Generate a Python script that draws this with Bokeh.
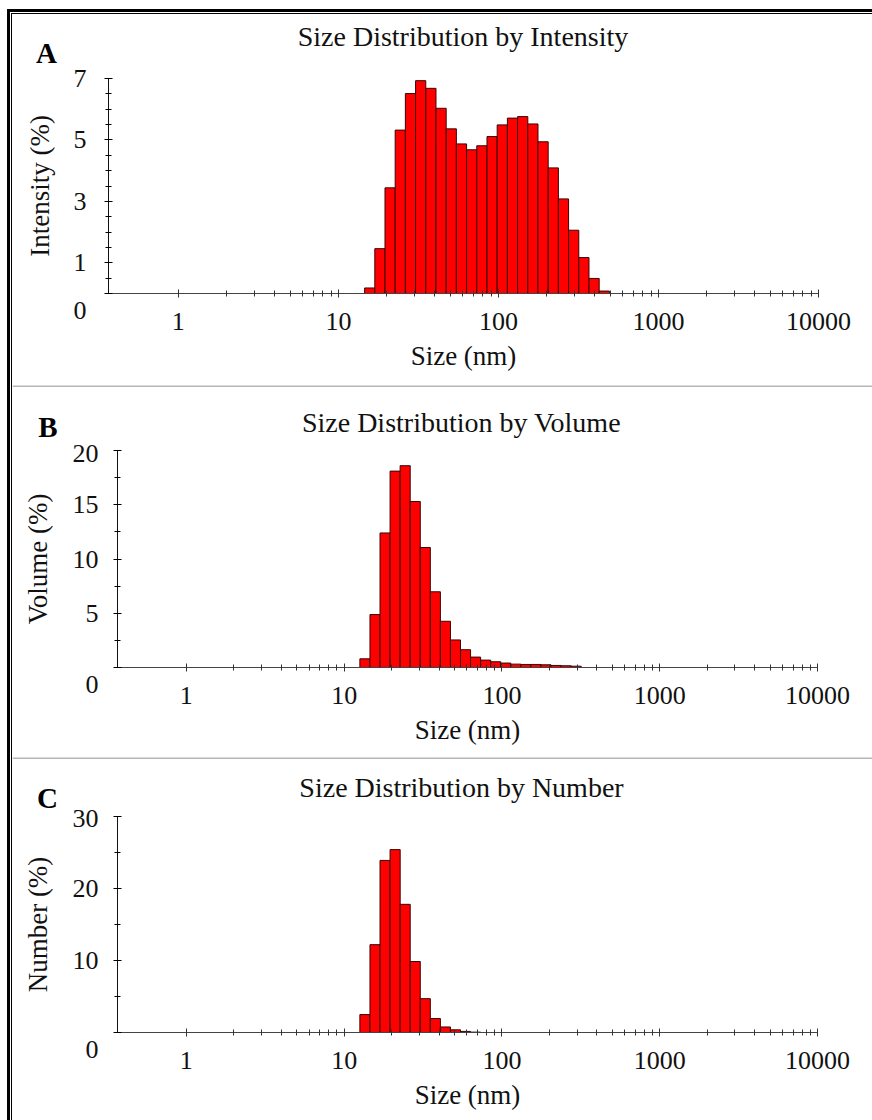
import math
from bokeh.plotting import figure
from bokeh.models import Range1d, FixedTicker, Label, BasicTickFormatter, Span
from bokeh.layouts import column
from bokeh.embed import file_html
from bokeh.resources import INLINE

# ---- data (Zetasizer size classes, nm, and % per class) ----
sizes_a = [15.69, 18.17, 21.04, 24.36, 28.21, 32.67, 37.84, 43.82, 50.75, 58.77,
           68.06, 78.82, 91.28, 105.7, 122.4, 141.8, 164.2, 190.1, 220.2, 255.0,
           295.3, 342.0, 396.1, 458.7]
intensity = [0.18, 1.46, 3.44, 5.32, 6.51, 6.93, 6.68, 6.03, 5.36, 4.87,
             4.68, 4.81, 5.11, 5.49, 5.71, 5.76, 5.52, 4.94, 4.09, 3.08,
             2.06, 1.17, 0.49, 0.08]

sizes_b = [13.54, 15.69, 18.17, 21.04, 24.36, 28.21, 32.67, 37.84, 43.82, 50.75,
           58.77, 68.06, 78.82, 91.28, 105.7, 122.4, 141.8, 164.2, 190.1, 220.2,
           255.0, 295.3]
volume = [0.8, 4.88, 12.4, 18.1, 18.6, 15.3, 11.06, 6.98, 4.26, 2.54,
          1.64, 0.96, 0.68, 0.53, 0.41, 0.31, 0.28, 0.28, 0.25, 0.19,
          0.16, 0.12]

sizes_c = [13.54, 15.69, 18.17, 21.04, 24.36, 28.21, 32.67, 37.84, 43.82, 50.75,
           58.77, 68.06]
number = [2.49, 12.2, 23.9, 25.4, 17.8, 9.86, 4.7, 1.94, 0.77, 0.37, 0.15, 0.05]

x_ticks = [1, 10, 100, 1000, 10000]
x_tick_labels = ["1", "10", "100", "1000", "10000"]

titles = ["Size Distribution by Intensity", "Size Distribution by Volume",
          "Size Distribution by Number"]
y_labels = ["Intensity (%)", "Volume (%)", "Number (%)"]
panel_letters = ["A", "B", "C"]
y_ticks_a = [0, 1, 3, 5, 7]
y_ticks_b = [0, 5, 10, 15, 20]
y_ticks_c = [0, 10, 20, 30]

FONT = "Liberation Serif"
W = 860
HEADER_H = 60
X0, X1 = 0.366, 10000
x_minor = [k * d for d in [1, 10, 100, 1000] for k in range(2, 10)]


def header(title, letter, title_xy, letter_xy, divider):
    h = figure(width=W, height=HEADER_H, x_range=Range1d(0, W), y_range=Range1d(HEADER_H, 0),
               title=None, min_border=0, x_axis_location=None, y_axis_location=None,
               output_backend="svg", toolbar_location=None)
    h.frame_align = False
    h.outline_line_color = None
    h.grid.visible = False
    if divider:
        h.add_layout(Span(location=0.5, dimension="width", line_color="#6e6e6e", line_width=1))
    h.add_layout(Label(x=title_xy[0], y=title_xy[1], text=title, text_font=FONT,
                       text_font_size="28px", text_align="center",
                       text_baseline="middle", text_color="#111111"))
    h.add_layout(Label(x=letter_xy[0], y=letter_xy[1], text=letter, text_font=FONT,
                       text_font_size="29px", text_font_style="bold", text_align="center",
                       text_baseline="middle", text_color="black"))
    return h


def panel(sizes, vals, ylab, yticks, ymax, yminor_step, height, borders,
          ylab_standoff, ytick_standoff, overlap):
    left_b, right_b, top_b, bottom_b = borders
    p = figure(width=W, height=height, x_axis_type="log",
               x_range=Range1d(X0, X1), y_range=Range1d(0, ymax),
               title=None, output_backend="svg", toolbar_location=None,
               min_border_left=left_b, min_border_right=right_b,
               min_border_top=top_b, min_border_bottom=bottom_b)
    p.frame_align = False
    p.outline_line_color = None
    p.grid.visible = False
    # transparent canvas so that the header above may overlap it
    p.border_fill_color = None
    p.background_fill_color = None
    p.styles = {"margin-top": f"-{overlap}px"}

    ratio = (sizes[1] / sizes[0]) ** 0.5
    lefts = [s / ratio for s in sizes]
    rights = [s * ratio for s in sizes]
    p.quad(left=lefts, right=rights, bottom=0, top=vals,
           fill_color="#ff0000", line_color="#3a0505", line_width=1)

    xa = p.xaxis[0]
    xa.ticker = FixedTicker(ticks=x_ticks, minor_ticks=x_minor)
    xa.formatter = BasicTickFormatter(use_scientific=False)
    xa.major_label_overrides = dict(zip(x_ticks, x_tick_labels))
    xa.axis_label = "Size (nm)"
    ya = p.yaxis[0]
    nmin = int(round(ymax / yminor_step))
    ya.ticker = FixedTicker(ticks=yticks, minor_ticks=[yminor_step * k for k in range(1, nmin + 1)])
    # the "0" of the original sits below the origin
    ya.major_label_overrides = {0: "\n0"}
    ya.axis_label = ylab
    for ax in (xa, ya):
        ax.axis_label_text_font = FONT
        ax.axis_label_text_font_size = "27px"
        ax.axis_label_text_font_style = "normal"
        ax.axis_label_text_color = "#111111"
        ax.major_label_text_font = FONT
        ax.major_label_text_font_size = "26px"
        ax.major_label_text_color = "#111111"
        ax.major_tick_in = 4
        ax.major_tick_out = 4
        ax.minor_tick_in = 3
        ax.minor_tick_out = 3
    xa.axis_line_color = "#444444"
    xa.major_tick_line_color = "#333333"
    xa.minor_tick_line_color = "#333333"
    ya.axis_line_color = "#111111"
    xa.major_label_standoff = 15
    xa.axis_label_standoff = 8
    ya.major_label_standoff = ytick_standoff
    ya.axis_label_standoff = ylab_standoff
    return p


hA = header(titles[0], panel_letters[0], (450.5, 22), (34, 38.5), False)
pA = panel(sizes_a, intensity, y_labels[0], y_ticks_a, 7, 0.5, 322, (96, 54, 15, 92), 16, 18, 11)
hB = header(titles[1], panel_letters[1], (449, 37), (35.5, 41), True)
pB = panel(sizes_b, volume, y_labels[1], y_ticks_b, 20, 2.5, 319, (105, 55, 12, 90), 17, 15, 7)
hC = header(titles[2], panel_letters[2], (449, 29.5), (35, 40), True)
pC = panel(sizes_c, number, y_labels[2], y_ticks_c, 30, 5, 317, (105, 55, 13, 88), 17, 15, 14)

inner = column(hA, pA, hB, pB, hC, pC, spacing=0,
               styles={"border-left": "1px solid black", "border-top": "1px solid black",
                       "background-color": "white"})
outer = column(inner, styles={"border-left": "3px solid black", "border-top": "3px solid black",
                              "padding-left": "1px", "padding-top": "1px",
                              "margin-left": "7px", "margin-top": "9px"})

open("out.html", "w").write(file_html(outer, INLINE))
